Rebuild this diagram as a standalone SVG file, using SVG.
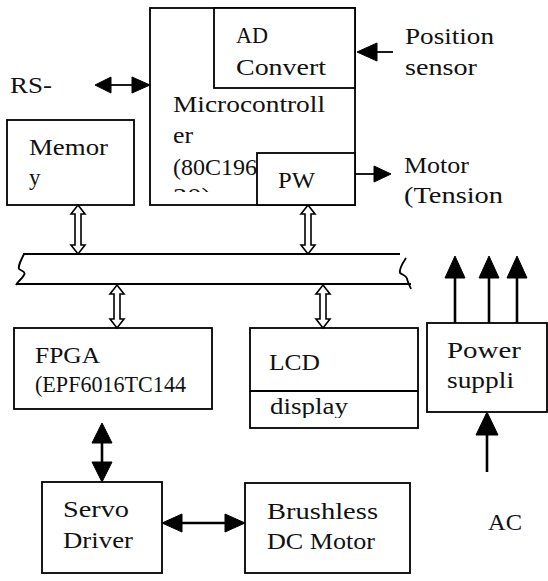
<svg xmlns="http://www.w3.org/2000/svg" width="548" height="581" viewBox="0 0 548 581">
<style>
.box{fill:#fff;stroke:#000;stroke-width:1.8}
.ln{fill:none;stroke:#000;stroke-width:1.8}
.thick{fill:none;stroke:#000;stroke-width:2.6}
.head{fill:#000;stroke:#000;stroke-width:1}
.hollow{fill:#fff;stroke:#000;stroke-width:1.6;stroke-linejoin:miter}
text{font-family:'Liberation Serif','DejaVu Serif','Times New Roman',serif;font-size:23px;fill:#111}
</style>
<defs>
<clipPath id="clipMicro"><rect x="150" y="90" width="205" height="102"/></clipPath>
<clipPath id="clipLcd"><rect x="250" y="391" width="168" height="27"/></clipPath>
</defs>
<rect width="548" height="581" fill="#fff"/>

<g font-family="Liberation Serif, DejaVu Serif, serif">
<g id="microcontroller">
<rect class="box" x="150" y="8" width="205" height="197"/>
<g clip-path="url(#clipMicro)">
<text x="173" y="112" textLength="152" lengthAdjust="spacingAndGlyphs">Microcontroll</text>
<text x="173" y="143" textLength="20" lengthAdjust="spacingAndGlyphs">er</text>
<text x="173" y="175" textLength="84" lengthAdjust="spacingAndGlyphs">(80C196</text>
<text x="173" y="204" textLength="38" lengthAdjust="spacingAndGlyphs">20)</text>
</g>
</g>
<g id="ad-convert">
<rect class="box" x="214" y="8" width="141" height="80"/>
<text x="236" y="43" textLength="32" lengthAdjust="spacingAndGlyphs">AD</text>
<text x="236" y="75" textLength="90" lengthAdjust="spacingAndGlyphs">Convert</text>
</g>
<g id="pw">
<rect class="box" x="257" y="153" width="98" height="52"/>
<text x="278" y="188" textLength="37" lengthAdjust="spacingAndGlyphs">PW</text>
</g>
<g id="memory">
<rect class="box" x="7" y="120" width="127" height="85"/>
<text x="29" y="155" textLength="79" lengthAdjust="spacingAndGlyphs">Memor</text>
<text x="29" y="185">y</text>
</g>
<g id="rs">
<text x="10" y="93" textLength="42" lengthAdjust="spacingAndGlyphs">RS-</text>
</g>
<g id="position-sensor">
<text x="405" y="44" textLength="89" lengthAdjust="spacingAndGlyphs">Position</text>
<text x="405" y="75" textLength="72" lengthAdjust="spacingAndGlyphs">sensor</text>
</g>
<g id="motor-tension">
<text x="404" y="173" textLength="65" lengthAdjust="spacingAndGlyphs">Motor</text>
<text x="404" y="203" textLength="99" lengthAdjust="spacingAndGlyphs">(Tension</text>
</g>
<g id="bus">
<line class="ln" x1="23" y1="254" x2="400" y2="254"/>
<line class="ln" x1="16" y1="284" x2="411" y2="284"/>
<path class="ln" d="M24,254 C20,262 18,266 19,269 C22,271 26,272 24,275 C22,279 18,281 16,285"/>
<path class="ln" d="M406,258 C402,264 399,270 400,273 C403,275 407,276 407,279 C408,283 410,286 411,289"/>
</g>
<g id="fpga">
<rect class="box" x="14" y="328" width="198" height="81"/>
<text x="35" y="363" textLength="65" lengthAdjust="spacingAndGlyphs">FPGA</text>
<text x="35" y="392" font-size="21" textLength="151" lengthAdjust="spacingAndGlyphs">(EPF6016TC144</text>
</g>
<g id="lcd">
<rect class="box" x="250" y="328" width="168" height="100"/>
<line class="ln" x1="250" y1="391" x2="418" y2="391"/>
<text x="269" y="370" textLength="51" lengthAdjust="spacingAndGlyphs">LCD</text>
<g clip-path="url(#clipLcd)">
<text x="270" y="414" textLength="78" lengthAdjust="spacingAndGlyphs">display</text>
</g>
</g>
<g id="power-supply">
<rect class="box" x="427" y="323" width="120" height="89"/>
<text x="447" y="358" textLength="74" lengthAdjust="spacingAndGlyphs">Power</text>
<text x="447" y="388" textLength="67" lengthAdjust="spacingAndGlyphs">suppli</text>
</g>
<g id="ac">
<text x="488" y="530" textLength="34" lengthAdjust="spacingAndGlyphs">AC</text>
</g>
<g id="servo-driver">
<rect class="box" x="42" y="482" width="120" height="91"/>
<text x="63" y="517" textLength="66" lengthAdjust="spacingAndGlyphs">Servo</text>
<text x="63" y="548" textLength="70" lengthAdjust="spacingAndGlyphs">Driver</text>
</g>
<g id="brushless-motor">
<rect class="box" x="245" y="483" width="165" height="90"/>
<text x="267" y="519" textLength="111" lengthAdjust="spacingAndGlyphs">Brushless</text>
<text x="267" y="549" textLength="108" lengthAdjust="spacingAndGlyphs">DC Motor</text>
</g>
</g>

<g id="connectors">
<line class="ln" x1="108" y1="85" x2="134" y2="85"/>
<polygon class="head" points="95,85 111,77 111,93"/>
<polygon class="head" points="150,85 132,77 132,93"/>
<line class="ln" x1="375" y1="52" x2="393" y2="52"/>
<polygon class="head" points="357,52 377,43 377,61"/>
<line class="ln" x1="355" y1="174" x2="376" y2="174"/>
<polygon class="head" points="391,174 374,166 374,182"/>
<path class="hollow" d="M78,205 L85,214 L81,214 L81,245 L85,245 L78,254 L71,245 L75,245 L75,214 L71,214 Z"/>
<path class="hollow" d="M308,205 L315,214 L311,214 L311,245 L315,245 L308,254 L301,245 L305,245 L305,214 L301,214 Z"/>
<path class="hollow" d="M117,285 L124,294 L120,294 L120,319 L124,319 L117,328 L110,319 L114,319 L114,294 L110,294 Z"/>
<path class="hollow" d="M323,285 L330,294 L326,294 L326,319 L330,319 L323,328 L316,319 L320,319 L320,294 L316,294 Z"/>
<line class="thick" x1="455" y1="276" x2="455" y2="323"/>
<line class="thick" x1="489" y1="276" x2="489" y2="323"/>
<line class="thick" x1="517" y1="276" x2="517" y2="323"/>
<polygon class="head" points="455,256 445,278 465,278"/>
<polygon class="head" points="489,256 479,278 499,278"/>
<polygon class="head" points="517,256 507,278 527,278"/>
<line class="thick" x1="487" y1="432" x2="487" y2="472"/>
<polygon class="head" points="487,412 476,435 498,435"/>
<line class="thick" x1="102" y1="440" x2="102" y2="465"/>
<polygon class="head" points="102,423 92,443 112,443"/>
<polygon class="head" points="102,482 92,462 112,462"/>
<line class="thick" x1="180" y1="523" x2="227" y2="523"/>
<polygon class="head" points="162,523 182,514 182,532"/>
<polygon class="head" points="245,523 225,514 225,532"/>
</g>
</svg>
